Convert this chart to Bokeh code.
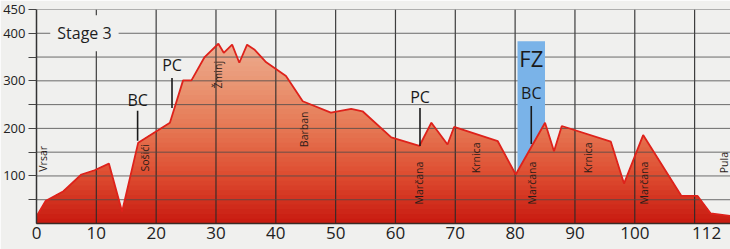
import numpy as np
from bokeh.plotting import figure
from bokeh.models import FixedTicker, Label, Range1d
from bokeh.core.properties import value
from bokeh.embed import file_html
from bokeh.resources import INLINE

# ---------------- data ----------------
km = [0, 1.5, 4.5, 7.5, 9.7, 12.1, 14.3, 17.0, 22.3, 24.5, 25.9, 28.1, 30.4, 31.3,
      32.7, 33.9, 35.2, 36.4, 38.4, 41.7, 44.5, 49.2, 52.6, 54.5, 59.3, 64.0, 66.0,
      68.7, 69.8, 77.1, 80.1, 85.0, 86.5, 87.8, 96.0, 98.2, 101.4, 107.8, 110.5,
      112.7, 116.0]
elev = [15, 47, 68, 103, 112, 126, 25, 170, 212, 301, 301, 350, 378, 359,
        376, 338, 376, 366, 339, 310, 257, 233, 241, 236, 181, 163, 212,
        166, 203, 173, 103, 212, 152, 205, 172, 84, 186, 58, 58,
        21, 16]

places = ["Vrsar", "Sošići", "Žminj", "Barban", "Marčana", "Krnica",
          "Marčana", "Krnica", "Marčana", "Pula"]
place_km = [1.1, 18.1, 30.3, 44.7, 64.0, 73.5, 82.9, 92.1, 101.5, 114.9]
place_elev = [136, 138, 313, 198, 85, 138, 85, 138, 85, 128]

marker_names = ["BC", "PC", "PC", "BC"]
marker_km = [16.9, 22.65, 64.1, 82.7]
marker_top = [237, 306, 243, 247]
marker_bottom = [174, 243, 163, 167]
marker_label_elev = [259, 333, 265, 274]

fz_name = "FZ"
fz_start, fz_end, fz_top = 80.4, 85.0, 383
fz_label_elev = 348

title_text = "Stage 3"

x_ticks = [0, 10, 20, 30, 40, 50, 60, 70, 80, 90, 100, 112]
x_grid = [10, 20, 30, 40, 50, 60, 70, 80, 90, 100, 110]
y_ticks = [50, 100, 150, 200, 250, 300, 350, 400, 450]
y_labels = {50: "", 100: "100", 150: "", 200: "200", 250: "",
            300: "300", 350: "", 400: "400", 450: "450"}

X_END, Y_END = 116, 450
PAPER = "#f0f0ee"
FONT = "Open Sans"

# ---------------- figure ----------------
p = figure(width=730, height=249, output_backend="svg", toolbar_location=None,
           x_range=Range1d(0, X_END), y_range=Range1d(0, Y_END),
           min_border_left=35, min_border_right=0, min_border_top=9,
           min_border_bottom=26)
p.background_fill_color = PAPER
p.border_fill_color = PAPER
p.outline_line_color = None
p.xgrid.grid_line_color = None
p.ygrid.grid_line_color = None

# gradient fill (bands drawn from top to bottom, each opaque)
xs = np.union1d(np.linspace(0, X_END, 2321), np.array(km, dtype=float))
prof = np.interp(xs, km, elev)
stops_h = [0, 100, 200, 300, 400]
stops_r = [200, 222, 230, 234, 238]
stops_g = [26, 76, 120, 152, 178]
stops_b = [16, 48, 84, 118, 152]
for h in range(390, 0, -10):
    c = (int(np.interp(h - 5, stops_h, stops_r)),
         int(np.interp(h - 5, stops_h, stops_g)),
         int(np.interp(h - 5, stops_h, stops_b)))
    p.varea(x=xs, y1=0, y2=np.minimum(prof, h),
            fill_color="#%02x%02x%02x" % c)

# grid lines on top of the fill
p.segment(x0=x_grid, y0=0, x1=x_grid, y1=Y_END, line_color="#2a2a2a",
          line_width=1.2, line_alpha=0.9)
p.segment(x0=0, y0=y_ticks, x1=X_END, y1=y_ticks, line_color="#4a4a4a",
          line_width=1.0, line_alpha=0.8)

# FZ zone (above the profile only)
bx = xs[(xs >= fz_start) & (xs <= fz_end)]
bx = np.union1d(bx, [fz_start, fz_end])
p.varea(x=bx, y1=np.interp(bx, km, elev), y2=fz_top, fill_color="#7ab3e8")

# profile line
p.line(km, elev, line_color="#de221b", line_width=1.8)

# markers
p.segment(x0=marker_km, y0=marker_bottom, x1=marker_km, y1=marker_top,
          line_color="#1a1a1a", line_width=1.6)
p.text(x=marker_km, y=marker_label_elev, text=marker_names,
       text_font=value(FONT), text_font_size="16px", text_color="#1a1a1a",
       text_align="center", text_baseline="middle")
p.text(x=[(fz_start + fz_end) / 2], y=[fz_label_elev], text=[fz_name],
       text_font=value(FONT), text_font_size="22px", text_color="#1a1a1a",
       text_align="center", text_baseline="middle")

# place names
p.text(x=place_km, y=place_elev, text=places, angle=np.pi / 2,
       text_font=value(FONT), text_font_size="10.5px", text_color="#2a1c18",
       text_align="center", text_baseline="middle")

# title label with paper background
p.add_layout(Label(x=2.3, y=400, text=title_text, text_font=FONT,
                   text_font_size="16px", text_color="#1e1e1e",
                   text_baseline="middle", background_fill_color=PAPER,
                   padding=7))

# axes
p.xaxis.ticker = FixedTicker(ticks=x_ticks)
p.xaxis.major_tick_out = 0
p.xaxis.major_tick_in = 0
p.xaxis.minor_tick_line_color = None
p.xaxis.axis_line_color = "#3a2a25"
p.xaxis.axis_line_width = 1.5
p.xaxis.major_label_text_font = FONT
p.xaxis.major_label_text_font_size = "17px"
p.xaxis.major_label_text_color = "#222222"
p.xaxis.major_label_standoff = 3

p.yaxis.ticker = FixedTicker(ticks=y_ticks)
p.yaxis.major_label_overrides = y_labels
p.yaxis.major_tick_out = 8
p.yaxis.major_tick_in = 0
p.yaxis.major_tick_line_color = "#444444"
p.yaxis.minor_tick_line_color = None
p.yaxis.axis_line_color = "#333333"
p.yaxis.axis_line_width = 1.5
p.yaxis.major_label_text_font = FONT
p.yaxis.major_label_text_font_size = "13px"
p.yaxis.major_label_text_color = "#222222"
p.yaxis.major_label_standoff = 3

open("out.html", "w").write(file_html(p, INLINE))
